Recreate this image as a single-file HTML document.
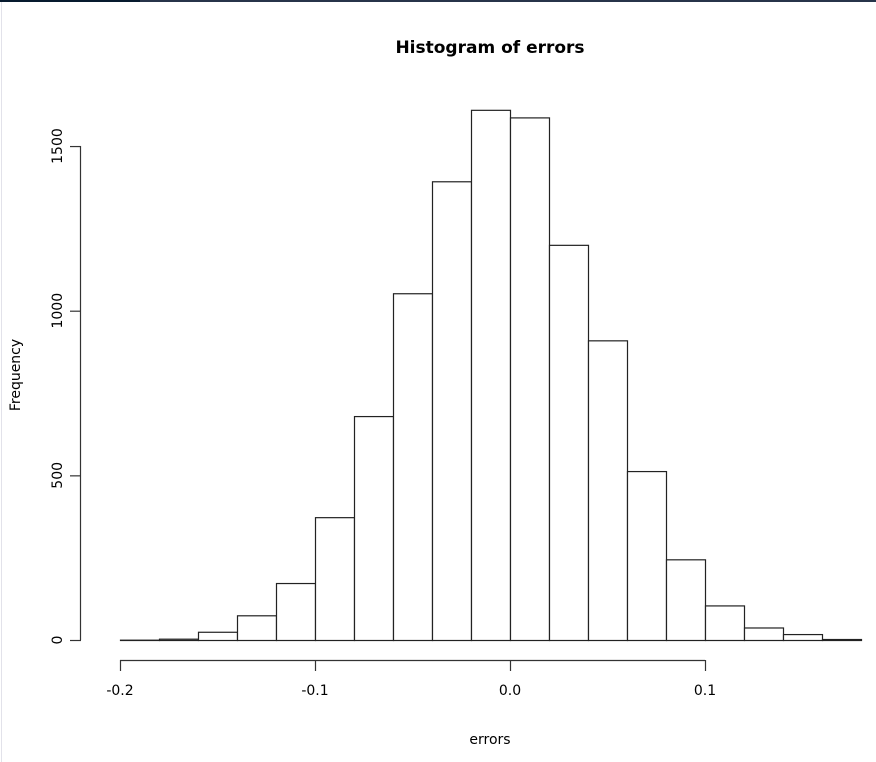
<!DOCTYPE html>
<html><head><meta charset="utf-8"><style>
html,body{margin:0;padding:0;background:#fff;}
svg{display:block;font-family:"DejaVu Sans","Liberation Sans",sans-serif;}
</style></head><body>
<svg id="chart" width="876" height="762">
<rect x="0" y="0" width="140" height="2" fill="#061a2e"/>
<rect x="140" y="0" width="736" height="2" fill="#27344a"/>
<rect x="1" y="2" width="1" height="760" fill="#e2e2ea"/>
<text x="490" y="53" text-anchor="middle" font-weight="bold" font-size="17" fill="#000">Histogram of errors</text>
<text x="490" y="744" text-anchor="middle" font-size="14" fill="#000">errors</text>
<text transform="translate(20,375) rotate(-90)" text-anchor="middle" font-size="14" fill="#000">Frequency</text>
<g id="bars"></g><g id="xaxis"></g><g id="yaxis"></g>
</svg>
<script>
const binStarts = [-0.2,-0.18,-0.16,-0.14,-0.12,-0.1,-0.08,-0.06,-0.04,-0.02,0,0.02,0.04,0.06,0.08,0.1,0.12,0.14,0.16];
const counts = [1,4,25,75,173,373,680,1053,1393,1610,1587,1200,910,513,245,105,38,18,3];
const binWidth = 0.02;
const xTicks = [-0.2,-0.1,0,0.1];
const xTickLabels = ["-0.2","-0.1","0.0","0.1"];
const yTicks = [0,500,1000,1500];
const yTickLabels = ["0","500","1000","1500"];

const NS="http://www.w3.org/2000/svg";
function X(v){return 510 + v*1950;}
function Y(v){return 640 - v*0.3293;}
function mk(tag,attrs,parent){const e=document.createElementNS(NS,tag);for(const k in attrs)e.setAttribute(k,attrs[k]);parent.appendChild(e);return e;}
const bars=document.getElementById('bars');
binStarts.forEach((b,i)=>{
  const x0=X(b),x1=X(b+binWidth),y=Y(counts[i]);
  const r=mk('rect',{x:x0+0.5,y:y+0.5,width:x1-x0,height:640-y,fill:'#fff',stroke:'#222','stroke-width':1.2},bars);
  
  
});
const xa=document.getElementById('xaxis');
const xl=mk('line',{x1:X(xTicks[0]),x2:X(xTicks[xTicks.length-1]),y1:660.5,y2:660.5,stroke:'#333','stroke-width':1.2},xa);


xTicks.forEach((t,i)=>{
  const l=mk('line',{x1:X(t)+0.5,x2:X(t)+0.5,y1:660,y2:671,stroke:'#333','stroke-width':1.2},xa);
  
  
  const tx=mk('text',{x:X(t),y:695,'text-anchor':'middle','font-size':14},xa);
  tx.textContent=xTickLabels[i];
  
  
});
const ya=document.getElementById('yaxis');
const yl=mk('line',{x1:80.5,x2:80.5,y1:Y(yTicks[0]),y2:Y(yTicks[yTicks.length-1]),stroke:'#333','stroke-width':1.2},ya);


yTicks.forEach((t,i)=>{
  const l=mk('line',{x1:70,x2:81,y1:Y(t)+0.5,y2:Y(t)+0.5,stroke:'#333','stroke-width':1.2},ya);
  
  
  const tx=mk('text',{transform:'translate(62,'+Y(t)+') rotate(-90)','text-anchor':'middle','font-size':14},ya);
  tx.textContent=yTickLabels[i];
  
  
});
</script>
</body></html>
